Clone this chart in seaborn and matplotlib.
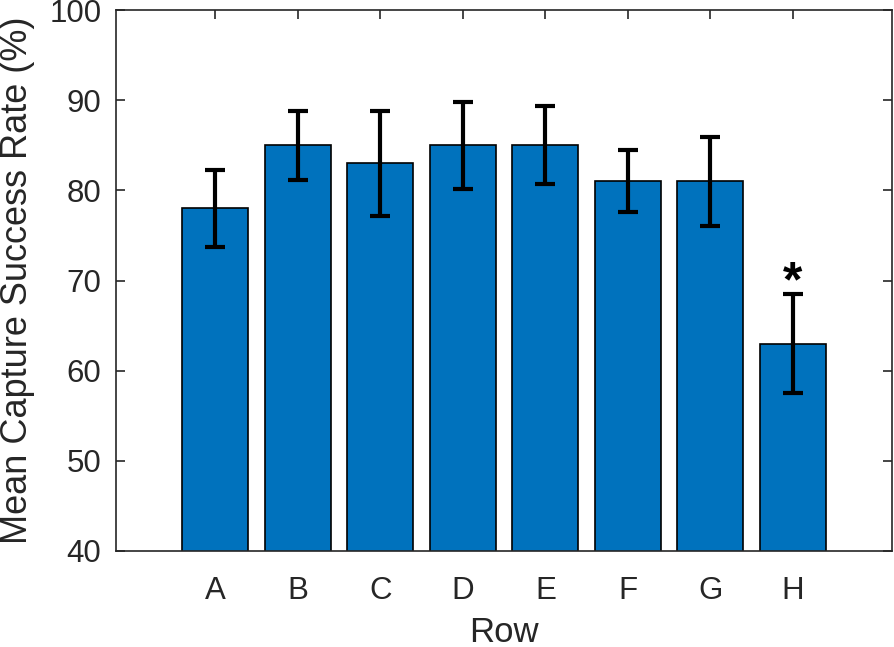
import matplotlib
matplotlib.use('Agg')
import matplotlib.pyplot as plt
import seaborn as sns
import pandas as pd

# Data
rows = ['A', 'B', 'C', 'D', 'E', 'F', 'G', 'H']
mean_rate = [78, 85, 83, 85, 85, 81, 81, 63]
err_rate = [4.3, 3.8, 5.8, 4.8, 4.35, 3.45, 4.95, 5.45]
significant = ['H']

bar_color = '#0072BD'
text_color = '#262626'

sns.set_style('ticks')
plt.rcParams['font.family'] = ['Liberation Sans', 'DejaVu Sans']

df = pd.DataFrame({'Row': rows, 'Rate': mean_rate, 'Err': err_rate})

fig = plt.figure(figsize=(8.94, 6.47), dpi=100)
ax = fig.add_axes([0.1298, 0.1484, 0.8680, 0.8361])

sns.barplot(data=df, x='Row', y='Rate', color=bar_color, saturation=1,
            edgecolor='black', linewidth=1.2, width=0.8, errorbar=None, ax=ax)

# Error bars
ax.errorbar(x=range(len(rows)), y=df['Rate'], yerr=df['Err'], fmt='none',
            ecolor='black', elinewidth=3, capsize=7.5, capthick=3, zorder=5)

# Significance marker
for i, r in enumerate(rows):
    if r in significant:
        top = df['Rate'][i] + df['Err'][i]
        ax.text(i, top + 1.2, '*', ha='center', va='center', fontsize=36,
                fontweight='bold', color='black')

ax.set_ylim(40, 100)
ax.set_xlim(-1.2, 8.2)
ax.set_yticks(range(40, 101, 10))

ax.set_xlabel('Row', fontsize=25, color=text_color, labelpad=7)
ax.set_ylabel('Mean Capture Success Rate (%)', fontsize=26, color=text_color, labelpad=10)

for side in ['top', 'right', 'left', 'bottom']:
    ax.spines[side].set_visible(True)
    ax.spines[side].set_linewidth(1.2)
    ax.spines[side].set_color(text_color)

ax.tick_params(axis='both', direction='in', length=6.5, width=1.2, colors=text_color,
               labelsize=22.5, top=True, right=True)
ax.tick_params(axis='x', pad=18)
ax.tick_params(axis='y', pad=10.5)

fig.savefig('out.png', dpi=100)
